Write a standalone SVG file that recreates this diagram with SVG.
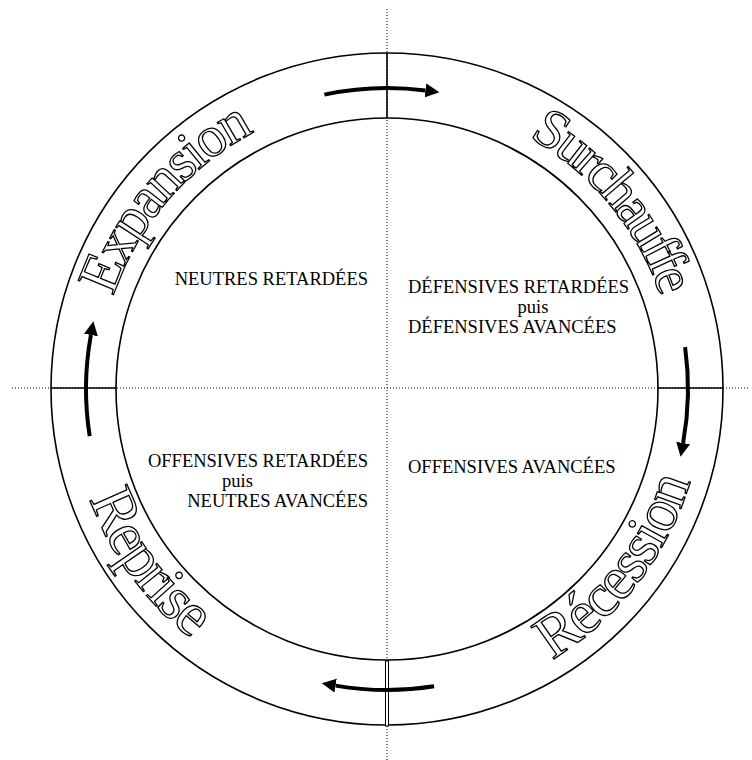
<svg xmlns="http://www.w3.org/2000/svg" xmlns:xlink="http://www.w3.org/1999/xlink" width="752" height="760" viewBox="0 0 752 760">
<style>
.dot{stroke:#000;stroke-width:1;stroke-dasharray:1 2;fill:none}
.ln{stroke:#000;stroke-width:1.6;fill:none}
.arr{stroke:#000;stroke-width:4;fill:none}
.big{font-family:"Liberation Serif","Times New Roman",serif;fill:#fff;stroke:#000;stroke-width:1.3}
.lbl{font-family:"Liberation Serif","Times New Roman",serif;font-size:18.5px;fill:#000}
</style>
<defs>
<marker id="ah" markerUnits="userSpaceOnUse" markerWidth="16" markerHeight="16" viewBox="0 0 16 16" refX="0" refY="8" orient="auto">
<path d="M0,1 L14,8 L0,15 z" fill="#000"/>
</marker>
<path id="topArc" d="M98,389 A289,289 0 0 1 676,389"/>
<path id="botArc" d="M70,389 A317,317 0 0 0 704,389"/>
</defs>
<rect width="752" height="760" fill="#fff"/>
<g id="axes">
<line class="dot" x1="387" y1="9" x2="387" y2="760"/>
<line class="dot" x1="12" y1="388" x2="750" y2="388"/>
</g>
<g id="ring">
<circle class="ln" cx="387" cy="389" r="336"/>
<circle class="ln" cx="387" cy="389" r="271"/>
<line class="ln" x1="387" y1="53" x2="387" y2="118"/>
<rect x="385.5" y="661" width="3" height="65" fill="#fff" stroke="#000" stroke-width="1"/>
<line class="ln" x1="51" y1="388" x2="116" y2="388"/>
<line class="ln" x1="658" y1="388" x2="723" y2="388"/>
</g>
<g id="connectors">
<path class="arr" d="M324.4,94.6 A301,301 0 0 1 425.5,90.5" marker-end="url(#ah)"/>
<path class="arr" d="M685.1,347.1 A301,301 0 0 1 683.1,443.0" marker-end="url(#ah)"/>
<path class="arr" d="M434.1,686.3 A301,301 0 0 1 335.6,685.6" marker-end="url(#ah)"/>
<path class="arr" d="M89.7,436.1 A301,301 0 0 1 90.9,335.0" marker-end="url(#ah)"/>
</g>
<g id="expansion"><text class="big" font-size="58"><textPath xlink:href="#topArc" startOffset="94.3" textLength="222" lengthAdjust="spacing">Expansion</textPath></text></g>
<g id="surchauffe"><text class="big" font-size="56"><textPath xlink:href="#topArc" startOffset="602" textLength="212" lengthAdjust="spacing">Surchauffe</textPath></text></g>
<g id="recession"><text class="big" font-size="61"><textPath xlink:href="#botArc" startOffset="671" textLength="231" lengthAdjust="spacing">Récession</textPath></text></g>
<g id="reprise"><text class="big" font-size="62"><textPath xlink:href="#botArc" startOffset="112" textLength="176" lengthAdjust="spacing">Reprise</textPath></text></g>
<g id="q-tl"><text class="lbl" x="368" y="285" text-anchor="end">NEUTRES RETARDÉES</text></g>
<g id="q-tr">
<text class="lbl" x="408" y="293">DÉFENSIVES RETARDÉES</text>
<text class="lbl" x="533" y="313" text-anchor="middle">puis</text>
<text class="lbl" x="408" y="333">DÉFENSIVES AVANCÉES</text>
</g>
<g id="q-bl">
<text class="lbl" x="368" y="467" text-anchor="end">OFFENSIVES RETARDÉES</text>
<text class="lbl" x="237.5" y="487" text-anchor="middle">puis</text>
<text class="lbl" x="368" y="507" text-anchor="end">NEUTRES AVANCÉES</text>
</g>
<g id="q-br"><text class="lbl" x="408" y="473">OFFENSIVES AVANCÉES</text></g>
</svg>
